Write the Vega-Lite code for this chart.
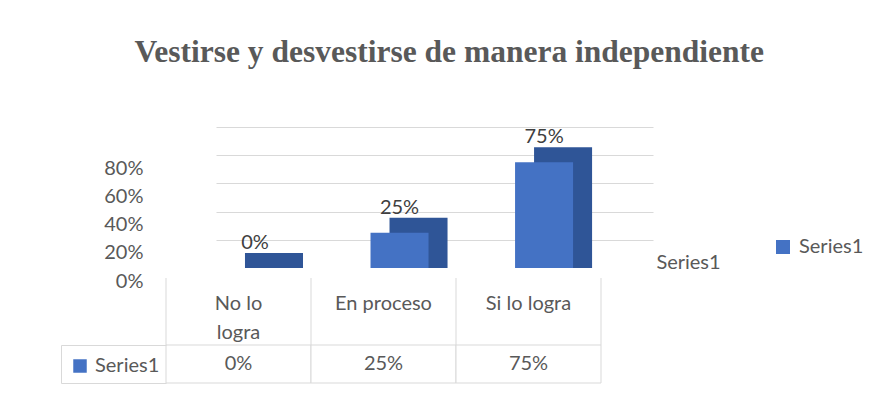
{
  "$schema": "https://vega.github.io/schema/vega-lite/v6.json",
  "background": "white",
  "padding": {"left": 60, "top": 37, "right": 0, "bottom": 0},
  "title": {"text": "Vestirse y desvestirse de manera independiente", "font": "Liberation Serif", "fontSize": 31.5, "fontWeight": "bold", "color": "#595959", "anchor": "middle", "offset": 58.5, "dx": -13},
  "config": {"view": {"stroke": null}, "font": "Lato"},
  "data": {"values": [
    {"categoria": "No lo logra", "etiqueta": "No lo\nlogra", "valor": 0},
    {"categoria": "En proceso", "etiqueta": "En proceso", "valor": 0.25},
    {"categoria": "Si lo logra", "etiqueta": "Si lo logra", "valor": 0.75}
  ]},
  "bounds": "flush",
  "spacing": 10,
  "resolve": {"scale": {"x": "independent", "y": "independent"}, "legend": {"color": "independent"}},
  "vconcat": [
    {
      "width": 487,
      "height": 141,
      "encoding": {
        "x": {"field": "categoria", "type": "nominal", "sort": null,
          "scale": {"range": [50, 487], "paddingInner": 0.5986, "paddingOuter": 0.311, "align": 0.111},
          "axis": {"labels": false, "ticks": false, "domain": false, "grid": false, "title": "Series1", "titleX": 522, "titleY": -6, "titleAlign": "center", "titleBaseline": "middle", "titleFont": "Lato", "titleFontSize": 20, "titleFontWeight": "normal", "titleColor": "#595959"}},
        "y": {"field": "valor", "type": "quantitative", "stack": null,
          "scale": {"domain": [0, 1], "nice": false},
          "axis": {"values": [0, 0.2, 0.4, 0.6, 0.8, 1], "format": ".0%", "labelExpr": "datum.value > 0.9 ? '' : datum.label", "gridColor": "#d9d9d9", "gridOpacity": {"condition": {"test": "datum.value === 0", "value": 0}, "value": 1}, "domain": false, "ticks": false, "labelPadding": 23, "labelOffset": 13, "labelFont": "Lato", "labelFontSize": 20, "labelColor": "#595959", "title": null}}
      },
      "layer": [
        {"mark": {"type": "bar", "color": "#2F5597", "xOffset": 19, "yOffset": -15}},
        {"mark": {"type": "bar"},
          "encoding": {"color": {"datum": "Series1", "type": "nominal", "scale": {"range": ["#4472C4"]},
            "legend": {"orient": "none", "legendX": 607, "legendY": 110, "title": null, "symbolType": "square", "symbolSize": 196, "symbolStrokeWidth": 0, "labelFont": "Lato", "labelFontSize": 20, "labelColor": "#595959", "labelOffset": 6, "padding": 0}}}},
        {"mark": {"type": "text", "dy": -25, "font": "Lato", "fontSize": 20, "color": "#404040"},
          "encoding": {"text": {"field": "valor", "type": "quantitative", "format": ".0%"}}}
      ]
    },
    {
      "bounds": "flush",
      "spacing": 0,
      "resolve": {"scale": {"x": "independent"}, "legend": {"color": "independent"}},
      "vconcat": [
        {
          "width": 435,
          "height": 67,
          "layer": [
            {"mark": {"type": "rule", "color": "#d9d9d9", "strokeWidth": 1},
              "encoding": {"x": {"field": "categoria", "type": "nominal", "sort": null, "bandPosition": 0, "axis": null, "scale": {"type": "band", "paddingInner": 0, "paddingOuter": 0}}}},
            {"transform": [{"filter": "datum.categoria === 'Si lo logra'"}],
              "mark": {"type": "rule", "color": "#d9d9d9", "strokeWidth": 1},
              "encoding": {"x": {"field": "categoria", "type": "nominal", "sort": null, "bandPosition": 1, "axis": null}}},
            {"mark": {"type": "text", "baseline": "top", "lineBreak": "\n", "lineHeight": 29, "dy": -18, "font": "Lato", "fontSize": 20, "color": "#595959"},
              "encoding": {"x": {"field": "categoria", "type": "nominal", "sort": null, "bandPosition": 0.5, "axis": null},
                "text": {"field": "etiqueta"}}}
          ]
        },
        {
          "width": 435,
          "height": 38,
          "encoding": {
            "x": {"field": "categoria", "type": "nominal", "sort": null, "axis": null, "scale": {"type": "band", "paddingInner": 0, "paddingOuter": 0}}
          },
          "layer": [
            {"mark": {"type": "rect"},
              "encoding": {
                "y": {"datum": "Series1", "type": "nominal", "scale": {"type": "band", "paddingInner": 0, "paddingOuter": 0},
                  "axis": {"orient": "left", "offset": 105, "domain": true, "domainColor": "#d9d9d9", "ticks": true, "tickColor": "#d9d9d9", "tickSize": -105, "tickBand": "extent", "labels": false, "grid": false, "title": null}},
                "color": {"datum": "Series1", "type": "nominal", "scale": {"range": ["#4472C4"]},
                  "legend": {"orient": "none", "legendX": -96, "legendY": 11, "title": null, "symbolType": "square", "symbolSize": 182, "symbolStrokeWidth": 0, "labelFont": "Lato", "labelFontSize": 20, "labelColor": "#595959", "labelOffset": 5, "padding": 0}}
              }},
            {"mark": {"type": "rect", "fill": "white", "stroke": "#d9d9d9", "strokeWidth": 1},
              "encoding": {"y": {"datum": "Series1", "type": "nominal"}}},
            {"mark": {"type": "text", "font": "Lato", "fontSize": 20, "color": "#595959"},
              "encoding": {"text": {"field": "valor", "type": "quantitative", "format": ".0%"}}}
          ]
        }
      ]
    }
  ]
}
